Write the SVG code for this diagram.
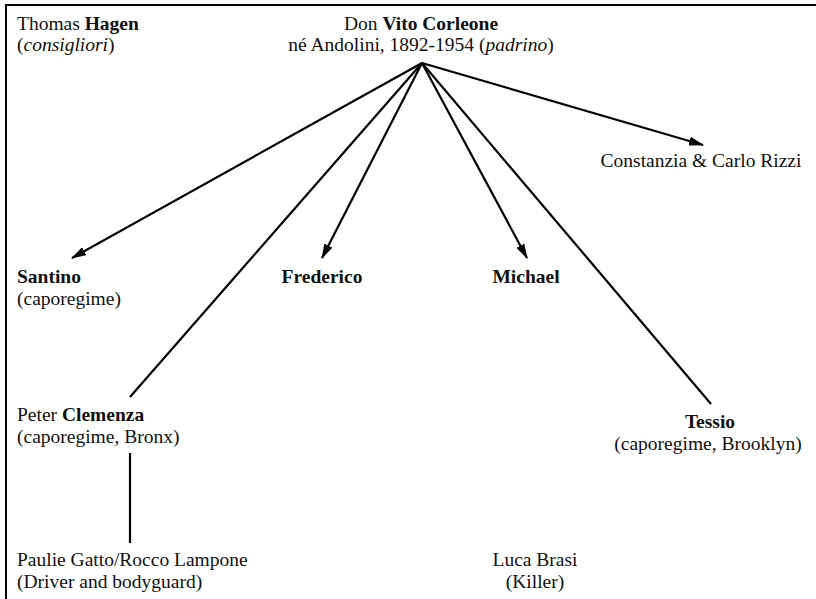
<svg xmlns="http://www.w3.org/2000/svg" width="816" height="599" viewBox="0 0 816 599">
<style>
text{font-family:"Liberation Serif","Times New Roman",serif;font-size:19.5px;fill:#111}
.b{font-weight:bold}
.i{font-style:italic}
.m{text-anchor:middle}
.c{stroke:#000;stroke-width:2.2;fill:none}
.f{stroke:#000;stroke-width:2;fill:none}
</style>
<defs>
<marker id="ah" markerUnits="userSpaceOnUse" markerWidth="15" markerHeight="9" refX="14" refY="4.5" orient="auto">
<path d="M0,0 L15,4.5 L0,9 z" fill="#000"/>
</marker>
</defs>
<g id="frame">
<path class="f" d="M6,599 V5 H816"/>
</g>
<g id="connectors">
<line class="c" x1="422" y1="63" x2="72" y2="258" marker-end="url(#ah)"/>
<line class="c" x1="422" y1="63" x2="130" y2="397"/>
<line class="c" x1="422" y1="63" x2="322" y2="258" marker-end="url(#ah)"/>
<line class="c" x1="422" y1="63" x2="527" y2="258" marker-end="url(#ah)"/>
<line class="c" x1="422" y1="63" x2="711" y2="404"/>
<line class="c" x1="422" y1="63" x2="703" y2="145" marker-end="url(#ah)"/>
<line class="c" x1="130" y1="453" x2="130" y2="543"/>
</g>
<g id="hagen">
<text x="17" y="30">Thomas <tspan class="b">Hagen</tspan></text>
<text x="17" y="51">(<tspan class="i">consigliori</tspan>)</text>
</g>
<g id="vito">
<text class="m" x="421" y="30">Don <tspan class="b">Vito Corleone</tspan></text>
<text class="m" x="421" y="51">né Andolini, 1892-1954 (<tspan class="i">padrino</tspan>)</text>
</g>
<g id="constanzia">
<text class="m" x="701" y="167">Constanzia &amp; Carlo Rizzi</text>
</g>
<g id="santino">
<text class="b" x="17" y="283">Santino</text>
<text x="17" y="305">(caporegime)</text>
</g>
<g id="frederico">
<text class="b m" x="322" y="283">Frederico</text>
</g>
<g id="michael">
<text class="b m" x="526" y="283">Michael</text>
</g>
<g id="clemenza">
<text x="17" y="421">Peter <tspan class="b">Clemenza</tspan></text>
<text x="17" y="443">(caporegime, Bronx)</text>
</g>
<g id="tessio">
<text class="b m" x="710" y="428">Tessio</text>
<text class="m" x="708" y="450">(caporegime, Brooklyn)</text>
</g>
<g id="gatto">
<text x="17" y="566">Paulie Gatto/Rocco Lampone</text>
<text x="17" y="588">(Driver and bodyguard)</text>
</g>
<g id="brasi">
<text class="m" x="535" y="566">Luca Brasi</text>
<text class="m" x="535" y="588">(Killer)</text>
</g>
</svg>
